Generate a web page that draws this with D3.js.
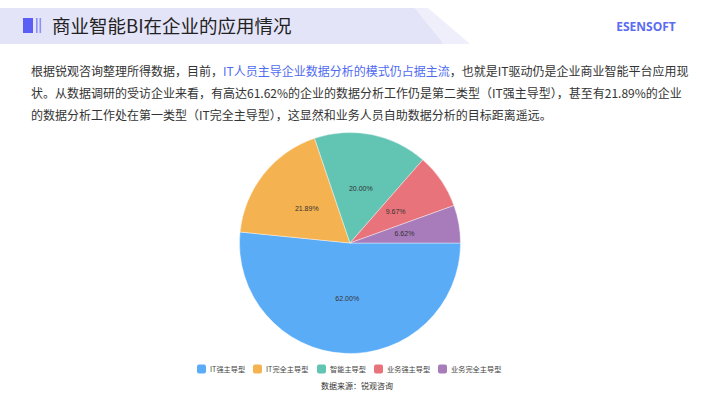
<!DOCTYPE html>
<html><head><meta charset="utf-8">
<script src="https://cdn.jsdelivr.net/npm/d3@7/dist/d3.min.js"></script>
<style>
html,body{margin:0;padding:0;background:#fff;}
svg{display:block;font-family:"Noto Sans CJK SC","Noto Sans",sans-serif;}
</style></head>
<body>
<svg id="chart" width="710" height="400"></svg>
<script>
const categories = ["IT强主导型","IT完全主导型","智能主导型","业务强主导型","业务完全主导型"];
const values = [62.00, 21.89, 20.00, 9.67, 6.62];
const colors = ["#5AACF7","#F5B250","#62C4B3","#E8737A","#A87CBA"];
const title = "商业智能BI在企业的应用情况";
const brand = "ESENSOFT";
const sourceText = "数据来源：锐观咨询";
const paragraph = [
  [["根据锐观咨询整理所得数据，目前，",false],["IT人员主导企业数据分析的模式仍占据主流",true],["，也就是IT驱动仍是企业商业智能平台应用现",false]],
  [["状。从数据调研的受访企业来看，有高达61.62%的企业的数据分析工作仍是第二类型（IT强主导型），甚至有21.89%的企业",false]],
  [["的数据分析工作处在第一类型（IT完全主导型），这显然和业务人员自助数据分析的目标距离遥远。",false]]
];

const svg = d3.select("#chart");

// Header band
svg.append("polygon").attr("points","0,8 415,8 444,44 0,44").attr("fill","#E4E4F9");
svg.append("polygon").attr("points","415,8 428,8 470,44 444,44").attr("fill","#EFEFFC");
svg.append("rect").attr("x",23).attr("y",18).attr("width",10).attr("height",15).attr("fill","#5A5EF4");
svg.append("rect").attr("x",36).attr("y",18).attr("width",1.6).attr("height",15).attr("fill","#8C8FF5");
svg.append("rect").attr("x",39.5).attr("y",18).attr("width",1.6).attr("height",15).attr("fill","#8C8FF5");
svg.append("text").attr("x",52).attr("y",32.5).attr("font-size",18.5).attr("fill","#222").text(title);
svg.append("text").attr("x",646).attr("y",30.5).attr("text-anchor","middle")
  .attr("font-size",12).attr("font-weight","bold").attr("fill","#5B6CF2")
  .attr("font-family","'Open Sans','DejaVu Sans',sans-serif").text(brand);

// Paragraph
const lineY = [76, 98, 120];
paragraph.forEach((segs,i)=>{
  const t = svg.append("text").attr("x",31).attr("y",lineY[i]).attr("font-size",12).attr("fill","#333");
  segs.forEach(([s,hl])=>{
    t.append("tspan").attr("fill", hl ? "#4F6BF0" : "#333").text(s);
  });
});

// Pie
const cx = 350, cy = 243, r = 110.5;
const pie = d3.pie().sort(null).value(d=>d).startAngle(Math.PI/2).endAngle(Math.PI/2 + 2*Math.PI);
const arc = d3.arc().innerRadius(0).outerRadius(r);
const g = svg.append("g").attr("transform",`translate(${cx},${cy})`);
const arcs = pie(values);
g.selectAll("path").data(arcs).join("path")
  .attr("d",arc).attr("fill",(d,i)=>colors[i])
  .attr("stroke","#fff").attr("stroke-width",0.4);
g.selectAll("text").data(arcs).join("text")
  .attr("transform",d=>`translate(${arc.centroid(d)})`)
  .attr("text-anchor","middle").attr("dy","0.35em")
  .attr("font-size",7).attr("fill","#333")
  .attr("font-family","'Liberation Sans',Arial,sans-serif")
  .text(d=>d.data.toFixed(2)+"%");

// Legend
const legX = [197, 253, 317, 374, 438];
const lg = svg.append("g");
categories.forEach((c,i)=>{
  lg.append("rect").attr("x",legX[i]).attr("y",364.5).attr("width",9).attr("height",9)
    .attr("rx",2).attr("fill",colors[i]);
  lg.append("text").attr("x",legX[i]+13).attr("y",371.5).attr("font-size",7.2).attr("fill","#444").text(c);
});
svg.append("text").attr("x",357).attr("y",389).attr("text-anchor","middle")
  .attr("font-size",8).attr("fill","#333").text(sourceText);
</script>
</body></html>
